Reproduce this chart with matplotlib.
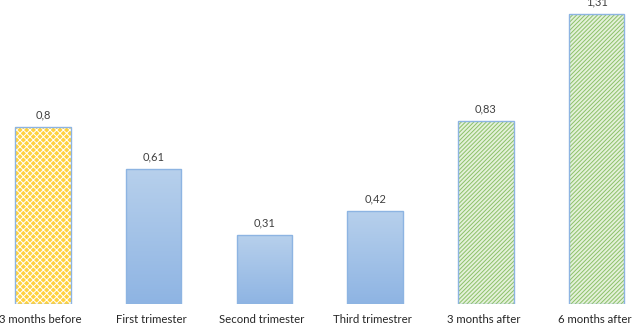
import numpy as np
import matplotlib.pyplot as plt
from matplotlib.colors import LinearSegmentedColormap

plt.rcParams['font.family'] = ['Lato', 'DejaVu Sans']
plt.rcParams['hatch.linewidth'] = 0.7

categories = ['3 months before', 'First trimester', 'Second trimester',
              'Third trimestrer', '3 months after', '6 months after']
values = [0.8, 0.61, 0.31, 0.42, 0.83, 1.31]
labels = ['0,8', '0,61', '0,31', '0,42', '0,83', '1,31']

fig = plt.figure(figsize=(6.32, 3.25), dpi=100)
ax = fig.add_axes([0, 21 / 325, 1, 304 / 325])
for s in ax.spines.values():
    s.set_visible(False)
ax.set_yticks([])
ax.set_xticks([])

x = np.arange(len(categories))
w = 0.5
edge = '#8DB4E2'

# yellow checker bar
ax.bar(x[0], values[0], w, color='#FFD23F', hatch='xxxxx', edgecolor='white', linewidth=0)
# blue gradient bars
grad = np.linspace(0, 1, 256).reshape(-1, 1)
cmap = LinearSegmentedColormap.from_list('b', ['#8EB4E3', '#B7D0EC'])
for i in range(1, 4):
    b = ax.bar(x[i], values[i], w, color='none', edgecolor='none')[0]
    im = ax.imshow(grad, cmap=cmap, aspect='auto', origin='lower',
                   extent=[x[i] - w / 2, x[i] + w / 2, 0, values[i]], zorder=1)
    im.set_clip_path(b)
# green hatched bars
ax.bar(x[4:], values[4:], w, color='#E4F1DA', hatch='////////', edgecolor='#8CC168', linewidth=0)
# outlines
ax.bar(x, values, w, color='none', edgecolor=edge, linewidth=1, zorder=3)

ax.set_xlim(-0.387, 5.32)
ax.set_ylim(0, 1.3756)

for xi, v, t in zip(x, values, labels):
    ax.text(xi, v + 0.03, t, ha='center', va='bottom', fontsize=8, color='#404040')
for xi, c in zip(x, categories):
    ax.text(xi - 0.02, -0.045, c, ha='center', va='top', fontsize=8.2, color='#262626')

plt.savefig('out.png', dpi=100)
